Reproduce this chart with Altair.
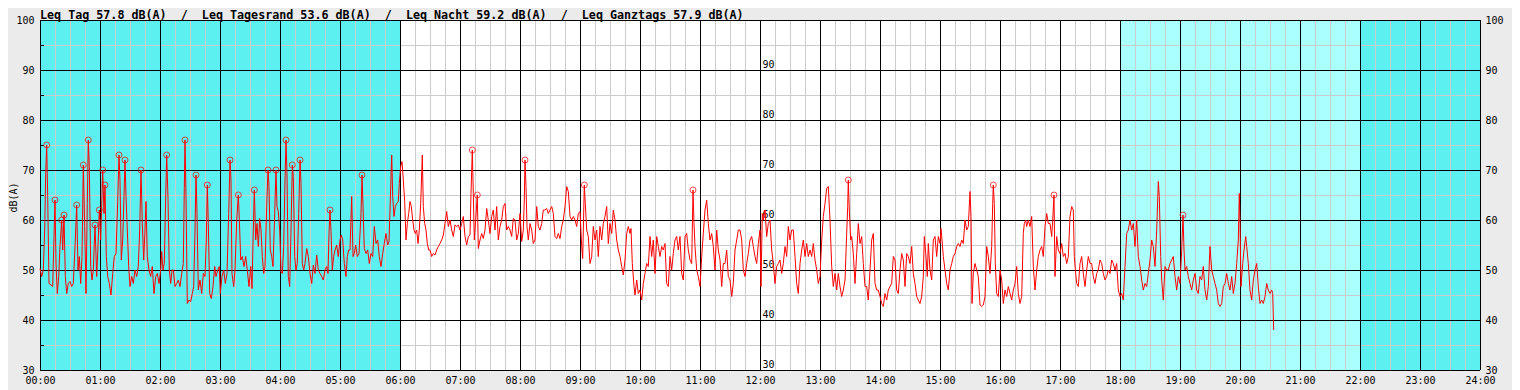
import altair as alt
import pandas as pd

# ---------------- data (minute of day, level dB(A)) ----------------
seg_night = [(0,50.3),(1.7,48.7),(3.3,50),(4.7,58),(5.7,69.3),(6.7,75),(7.7,64.7),(9,47.3),(11,47),(12.7,46.7),(14,56.7),(15,64),(16,51.3),(17.3,45.3),(18.7,48.7),(20,54.7),(21.7,60),(22.7,54),(24,61),(25.3,48.7),(26.7,45.3),(28.3,47.3),(30,47.7),(31.7,46.7),(33.3,47.3),(35.3,56),(36.7,63),(38,50),(39.3,52.7),(40.7,47.3),(42,52.7),(43.3,71),(44.7,58.7),(46,45.3),(47.3,63.3),(48.3,76),(49.3,70.7),(50.7,50.7),(52,48),(53.3,50),(55,59),(56.7,48.7),(58,54.7),(59.3,62),(60.7,56),(62.7,70),(64,61.3),(65,67),(66.3,52.7),(67.7,48.7),(69.3,47.3),(71,45),(72.7,49.3),(74.3,52.7),(76,53.3),(77.7,63.7),(79,73),(80,67.7),(81.3,52),(82.7,56),(84,64.7),(85,72),(86,64.7),(87.3,58),(88.7,50.7),(90,46.7),(91.7,48.7),(93.3,47.3),(95,50),(96.7,48.7),(98.3,50.7),(99.7,58),(101,70),(102.3,59.3),(103.7,52),(105,58),(106,63.7),(107.3,52.7),(109,50),(110.7,48.7),(112.3,50.7),(114,45.3),(115.7,48.7),(117.3,49.3),(119,47.3),(120.7,50),(121.7,53.7),(123,50),(124.3,51.3),(125.7,64.7),(126.7,73),(128,64.3),(129.3,50),(130.7,47.3),(132,50),(133.3,50),(135,46.7),(136.7,47.3),(138.3,48),(140,46.7),(141.7,49.3),(143.3,51.3),(144.3,66.3),(145,76),(146,64.7),(147.3,43.3),(149,44),(150.7,43.7),(152.3,45.3),(153.7,46.7),(155,58),(156,69),(157,61.3),(158.3,46),(160,48),(161.7,45.3),(163.3,49.3),(165,48.7),(166.3,56),(167.3,67),(168.3,59.3),(169.7,45.3),(171.3,44.3),(173,46.7),(174.7,50.7),(176,48.7),(177.7,50),(179.3,50.7),(180.3,45.3),(182,48.7),(183.7,50),(185.3,47.3),(187,49.3),(188.7,61.3),(190,72),(191,68),(192,49.3),(193.7,46.7),(195,50),(196.7,60),(198.3,65),(199.3,60.3),(200.7,52),(202.3,52.7),(204,50.7),(205.7,52.7),(207.3,50),(209,46.7),(210.7,50.7),(212,46.3),(213.3,58),(214.3,66),(215.7,56),(217,59.3),(218.3,54.7),(219.7,60.3),(221,58),(222.3,52.7),(223.7,49.3),(225,50.7),(226.7,62.7),(228,70),(229,66.7),(230.3,54),(231.7,52.7),(233,50.7),(234.7,61.3),(236,70),(237,62.7),(238.3,61.7),(239.7,58),(241,49.7),(242.3,49.3),(243.7,54.7),(245,68),(246,76),(247,69),(248.3,48.7),(249.7,46.7),(251,58),(252.3,71),(253.3,68.7),(254.7,52.7),(256,50),(257.3,51.3),(258.7,61.3),(260,72),(261,67.3),(262.3,51.3),(263.7,50),(265,51.3),(266.7,54.3),(268.3,52.7),(270,49.3),(271.7,47.3),(273.3,51),(275,49.3),(276.7,53),(278.3,50),(280,49.3),(281.7,48.7),(283.3,48),(285,50),(286.7,50.7),(288,49.3),(289,57.3),(290,62),(291,57.7),(292.3,50),(293.7,52.7),(295,54),(296.7,55),(298.3,52.7),(300,56),(301.3,57),(302.7,56),(304.3,51.3),(306,48.7),(307.3,52.7),(308.7,54),(310,54),(311.7,64.7),(313,52.7),(314.3,53.3),(315.7,55),(317.3,52.7),(319,53.3),(321,61.3),(322,69),(323,62.7),(324.3,54.3),(326,53.3),(327.7,54),(329.3,51.3),(331,53.3),(332.7,52.7),(334.3,58.7),(336,55.3),(337.7,56),(339.3,52.7),(341,50.7),(342.7,53.3),(344.3,55.3),(346,57.3),(347.7,55),(349,55.7),(350,62),(351.7,73),(352.7,64.7),(354,60.7),(355.3,62.7),(356.7,63.3),(358.3,63.7),(359.3,67.3),(360.7,70.7),(362,71.7),(363.3,68),(364.7,63.7),(366,56),(367.3,59.3),(368.7,61.3),(370,63.7),(371.3,62.7),(372.7,60),(374,58),(375.3,57.3),(376.7,58),(378,55.3),(379.3,58),(380.7,63.3),(382.3,73),(383.3,62.7),(384.7,59.3),(386,58),(387.3,55.3),(388.7,54),(390,54),(391.7,52.7),(393.3,53.3),(395,53),(396.7,54),(398.3,54.7),(400,55.3),(401.7,56),(403.3,57),(405,59.3),(406.7,61.7),(408.3,58.7),(410,60),(411.7,58),(413.3,56.7)]

seg_day = [(415,59),(416.7,58.7),(418.3,59),(420,58),(421.7,59.3),(423.3,60.7),(425,56.7),(426.7,55),(428.3,56.7),(430,57),(431,65.3),(432.3,74),(433.3,65.3),(434.3,56),(435.7,60),(437.3,65),(438.3,54.3),(440,56),(441.7,57.3),(443.3,56.3),(445,58),(446.7,62.3),(448.3,60),(450,57.3),(451.7,60.7),(453.3,62),(455,58),(456.7,62.7),(458.3,56),(460,58.7),(461.7,60),(463.3,62.7),(465,63.3),(466.7,58),(468.3,58.7),(470,58),(471.7,56.7),(473.3,60.3),(475,60),(476.7,56),(478.3,57.3),(480,61.3),(481.7,55.7),(483.3,58),(484.3,64),(485,72),(486,66.7),(487,58.7),(488.3,56),(490,59.3),(491.7,58),(493.3,55.3),(495,56),(496.7,62.7),(498.3,58.7),(500,58),(501.7,59.3),(503.3,62),(505,62),(506.7,62.3),(508.3,61.3),(510,62),(511.7,62.7),(513.3,61.3),(515,56.7),(516.7,56.3),(518.3,57.3),(520,56.3),(521.7,58.7),(523.3,60),(525,62.7),(526.7,66.7),(528.3,65.7),(530,60.7),(531.7,60),(533.3,60.7),(535,60),(536.7,58.7),(538.3,61.3),(540,61.7),(541.7,54.7),(542.7,52.3),(544.3,67),(545.3,63.3),(546.7,58),(548.3,56.7),(550,51.3),(551.7,52.7),(553.3,58.7),(555,56),(556.7,58),(558.3,52.7),(560,58.7),(561.7,56),(563.3,59.3),(565,60.7),(566.7,62.7),(568.3,55.3),(570,59.3),(571.7,57.3),(573.3,62),(575,60),(576.7,56),(578.3,54),(580,52.7),(581.7,50.7),(583.3,49),(585,52),(586.7,57.3),(588.3,58.7),(590,57.3),(591,58.3),(592.3,51.3),(594,46.7),(595,45),(596.7,48),(598.3,45.3),(600,46),(601.7,44),(603.3,47.3),(605,49.3),(606.7,51.3),(608.3,50.7),(610,56.7),(611.7,52.7),(613.3,56),(615,49.3),(616.7,56.7),(618.3,54.7),(620,52.7),(621.7,54.7),(623.3,54),(625,55.3),(626.7,47.3),(628.3,46.7),(630,52.7),(631.7,50),(633.3,53.3),(635,56),(636.7,56.7),(638.3,54),(640,56.7),(641.7,49.3),(643.3,48),(645,56.7),(646.7,57.3),(648.3,54),(650,52),(651.7,51.3),(653,66),(654,59.3),(655,54.7),(656.7,50),(658.3,48.7),(660,46.7),(661.7,52.7),(663.3,57.3),(665,62),(666.7,64),(668.3,59.3),(670,56),(671.7,57.3),(673.3,54.7),(675,50),(676.7,58),(678.3,54),(680,52),(681.7,46.7),(683.3,51.3),(685,51.3),(686.7,54),(688.3,48.7),(690,48),(691.7,44.7),(693.3,47.3),(695,54),(696.7,56),(698.3,58),(700,58),(701.7,56),(703.3,50),(705,48.7),(706.7,51.3),(708.3,53.3),(710,56),(711.7,56.7),(713.3,54.7),(715,52.7),(716.7,51.3),(718.3,55.3),(720,58),(721,46.7),(722.3,61.3),(723.3,60),(725,62),(726.7,56.7),(728.3,59.3),(730,60),(731.7,54),(733.3,51.3),(735,47.3),(736.7,50.7),(738.3,51.3),(740,52),(741.7,49.3),(743.3,51.3),(745,54.7),(746.7,52.7),(748.3,58.7),(750,56),(751.7,58),(753.3,58),(755,52.7),(756.7,47.3),(758.3,45.3),(760,51.3),(761.7,54),(763.3,56),(765,52.7),(766.7,55.3),(768.3,52.7),(770,54),(771.7,52.7),(773.3,55.3),(775,52),(776.7,50),(778.3,47.3),(780,48.7),(781.7,56),(783.3,60.7),(785,63.3),(786.7,66.3),(788.3,66.7),(790,60),(791.7,50.7),(793.3,46.7),(795,49.3),(796.7,46),(798.3,49.3),(800,46.7),(801.7,44.7),(803.3,46),(805,48),(806.7,57.3),(807.7,62.7),(808.3,68),(809.3,62),(810.7,56),(811.7,56.7),(813.3,53.3),(815,47.3),(816.7,53.3),(818.3,59.3),(820,55.3),(821.7,56.7),(823.3,51.3),(825,46.7),(826.7,46.7),(828.3,44)]

seg_evening = [(830,50),(831.7,56),(833.3,57.3),(835,47.3),(836.7,46),(838.3,46),(840,44.7),(841.7,43.3),(843.3,42.7),(845,45.3),(846.7,44),(848.3,46),(850,46.7),(851.7,47.3),(853.3,52.7),(855,52),(856.7,46),(858.3,45.3),(860,50),(861.7,53.3),(863.3,52),(865,46.7),(866.7,53.3),(868.3,52.7),(870,51.3),(871.7,54.7),(873.3,49.3),(875,47.3),(876.7,44.7),(878.3,44),(880,43.3),(881.7,44.7),(883.3,48.7),(884.3,56.7),(886,52.7),(887.3,48.7),(888.3,55.3),(890,50),(891.7,48),(893.3,56),(895,56.7),(896.7,52.7),(898.3,56.7),(900,55.3),(901,58.3),(902,56),(903.3,52.7),(905,50),(906.7,47.3),(908.3,46),(910,50),(911.7,51.3),(913.3,52.7),(915,53.3),(916.7,54.7),(918.3,55.3),(920,54.7),(921.7,56),(923.3,55.3),(925,60),(926.7,58),(928.3,58.7),(930,65.7),(931,60.7),(932,43.3),(933.3,49.3),(935,51.3),(936.7,50),(938.3,48.7),(940,43),(941.7,42.7),(943.3,43),(945,44.7),(946.7,54.7),(948.3,52.7),(950,49.3),(951.7,54.7),(952.7,63.3),(953.3,67),(954.3,63.3),(955.3,51.3),(956.7,45.3),(958.3,44.7),(960,50),(961.7,48),(963.3,43.3),(965,46),(966.7,44.7),(968.3,46.7),(970,45.3),(971.7,44),(973.3,46),(975,47.3),(976.7,50.7),(978.3,45.3),(980,43.3),(981.7,44.7),(983.3,57.3),(984.3,59.3),(985.7,60),(986.7,58.7),(988.3,60),(990,58.7),(991.7,60.7),(993.3,50.7),(995,46),(996.7,50),(998.3,52.7),(1000,54),(1001.7,54.7),(1003.3,52.7),(1005,58.7),(1006.7,61.3),(1008.3,59.3),(1010,59.3),(1011.7,56.7),(1012.7,60),(1014,65),(1015,48.7),(1016.7,56.7),(1018.3,54),(1020,53.3),(1021.7,55.3),(1023.3,52.7),(1025,53.3),(1026.7,51.3),(1028.3,52.7),(1030,60.7),(1031.7,62.7),(1033.3,62),(1034.3,52.7),(1035.7,49.3),(1036.7,47.3),(1038.3,46.7),(1040,51.3),(1041.7,52.7),(1043.3,49.3),(1045,46.7),(1046.7,50),(1048.3,52.7),(1050,51.3),(1051.7,51.3),(1053.3,48.7),(1055,47.3),(1056.7,49.3),(1058.3,50),(1060,52),(1061.7,51.3),(1063.3,49.3),(1065,48),(1066.7,48.7),(1068.3,50),(1070,49.3),(1071.7,52),(1073.3,51.3),(1075,50),(1076.7,51.3),(1078.3,46),(1080,44.7),(1081.7,45.3),(1083.3,44),(1085,50.7),(1086.7,57.3),(1088.3,58),(1090,60),(1091.7,58),(1093.3,59.3),(1095,54.7),(1096.7,60),(1098.3,52.7),(1100,50.7),(1101.7,48),(1103.3,46),(1105,47.3),(1106.7,46.7),(1108.3,49.3),(1110,52),(1111.7,56),(1113.3,54.7),(1115,50.7),(1116.7,58),(1118.3,67.7),(1119.3,64.7),(1120.7,52.7),(1121.7,48),(1123.3,44),(1125,50.7),(1126.7,50),(1128.3,50),(1130,51.3),(1131.7,52),(1133.3,52.7),(1135,48.7),(1136.7,46),(1138.3,48.7),(1140,47.3),(1141.7,54),(1143,61),(1144,54),(1145,50),(1146.7,50.7),(1148.3,48.7),(1150,47.3),(1151.7,46),(1153.3,48),(1155,49.3),(1156.7,46),(1158.3,45.3),(1160,48.7),(1161.7,48),(1163.3,50.7),(1165,46),(1166.7,44),(1168.3,46.7),(1170,54.7),(1171.7,50),(1173.3,48.7),(1175,47.3),(1176.7,46),(1178.3,43.3),(1180,42.7),(1181.7,43.3),(1183.3,46.7),(1185,47.3),(1186.7,49.3),(1188.3,47.3),(1190,46),(1191.7,48.7),(1193.3,45.3),(1195,47.3),(1196.7,51.3),(1198.3,56),(1199.3,65.3),(1200,59.3),(1201,46.7),(1202.7,51.3),(1204,54),(1205.7,56.7),(1206.7,54.7),(1208.3,51.3),(1210,46),(1211.7,44),(1213.3,48),(1215,50),(1216.7,51.3),(1218.3,46.7),(1220,43.3),(1221.7,44),(1223.3,43.3),(1225,44.7),(1226.7,47.3),(1228.3,46),(1230,45.3),(1231.7,46),(1232.7,45.3),(1233.7,38)]

peak_min = [6.7,15,21.7,24,36.7,43.3,48.3,55,59.3,62.7,65,79,85,101,126.7,145,156,167.3,190,198.3,214.3,228,236,246,252.3,260,290,322,432.3,437.3,485,544.3,653,808.3,953.3,1014,1143]
peak_db = [75,64,60,61,63,71,76,59,62,70,67,73,72,70,73,76,69,67,72,65,66,70,70,76,71,72,62,69,74,65,72,67,66,68,67,65,61]

period_start = [0, 1080, 1320]
period_end = [360, 1320, 1440]
period_fill = ["#5cf0f0", "#aaffff", "#5cf0f0"]

hour_min = list(range(0, 1441, 60))
hour_labels = ["%02d:00" % h for h in range(25)]
quarter_min = [m for m in range(0, 1441, 15) if m % 60]
db_major = list(range(30, 101, 10))
db_minor = list(range(35, 100, 10))
mid_labels = [30, 40, 50, 60, 70, 80, 90]
mid_label_time = 720
left_tick_len = 4

title_text = ("Leq Tag 57.8 dB(A)  /  Leq Tagesrand 53.6 dB(A)  /  "
              "Leq Nacht 59.2 dB(A)  /  Leq Ganztags 57.9 dB(A)").replace(" ", "\u00a0")

FONT = "DejaVu Sans Mono"
MINOR = "#cccccc"

# ---------------- frames ----------------
line_df = pd.DataFrame(seg_night + seg_day + seg_evening, columns=["t", "db"])
peak_df = pd.DataFrame({"t": peak_min, "db": peak_db})
period_df = pd.DataFrame({"start": period_start, "end": period_end, "fill": period_fill})
hour_df = pd.DataFrame({"t": hour_min})
quarter_df = pd.DataFrame({"t": quarter_min})
major_df = pd.DataFrame({"db": db_major})
minor_df = pd.DataFrame({"db": db_minor})
mid_df = pd.DataFrame({"db": mid_labels})

xs = alt.Scale(domain=[0, 1440], nice=False, zero=False)
ys = alt.Scale(domain=[30, 100], nice=False, zero=False)

label_expr = "[" + ",".join("'%s'" % s for s in hour_labels) + "][round(datum.value/60)]"

x_axis = alt.Axis(
    values=hour_min, labelExpr=label_expr, grid=False, ticks=False, domain=False,
    labelFlush=False, labelOverlap=False, labelPadding=5, labelFont=FONT,
    labelFontSize=10, labelColor="black", title="")
y_axis = alt.Axis(
    values=db_major, grid=False, ticks=False, domain=False, labelPadding=6,
    labelFont=FONT, labelFontSize=10, labelColor="black",
    title="dB(A)", titleFont=FONT, titleFontSize=10, titleFontWeight="normal",
    titleColor="black", titleAngle=270, titleX=-23.5, titleY=177,
    titleAlign="center", titleBaseline="alphabetic")

bg = alt.Chart(period_df).mark_rect().encode(
    x=alt.X("start:Q", scale=xs, axis=x_axis),
    x2="end:Q",
    color=alt.Color("fill:N", scale=None),
)

v_minor = alt.Chart(quarter_df).mark_rule(color=MINOR, strokeWidth=1, xOffset=0.5).encode(
    x=alt.X("t:Q", scale=xs))
h_minor = alt.Chart(minor_df).mark_rule(color=MINOR, strokeWidth=1, yOffset=0.5).encode(
    y=alt.Y("db:Q", scale=ys, axis=y_axis))

v_major = alt.Chart(hour_df).mark_rule(color="black", strokeWidth=1, xOffset=0.5).encode(
    x=alt.X("t:Q", scale=xs))
h_major = alt.Chart(major_df).mark_rule(color="black", strokeWidth=1, yOffset=0.5).encode(
    y=alt.Y("db:Q", scale=ys))

left_ticks = alt.Chart(minor_df).mark_rule(color="black", strokeWidth=1, yOffset=0.5).encode(
    x=alt.datum(0), x2=alt.datum(left_tick_len),
    y=alt.Y("db:Q", scale=ys))

mid_text = alt.Chart(mid_df).mark_text(
    font=FONT, fontSize=10, align="left", baseline="alphabetic", dx=2.5, dy=-2, color="black"
).encode(x=alt.datum(mid_label_time), y=alt.Y("db:Q", scale=ys), text="db:Q")

right_text = alt.Chart(major_df).mark_text(
    font=FONT, fontSize=10, align="left", baseline="middle", dx=5.5, dy=0.5, color="black"
).encode(x=alt.datum(1440), y=alt.Y("db:Q", scale=ys), text="db:Q")

line = alt.Chart(line_df).mark_line(color="#ff0000", strokeWidth=1).encode(
    x=alt.X("t:Q", scale=xs), y=alt.Y("db:Q", scale=ys))

peaks = alt.Chart(peak_df).mark_point(shape="circle", filled=False, color="#ff0000",
                                     size=36, strokeWidth=1).encode(
    x=alt.X("t:Q", scale=xs), y=alt.Y("db:Q", scale=ys))

chart = alt.layer(
    bg, v_minor, h_minor, v_major, h_major, left_ticks, mid_text, right_text, line, peaks
).properties(
    width=1440, height=350,
    padding={"left": 32, "top": 12, "right": 32, "bottom": 20},
    autosize=alt.AutoSizeParams(type="none"),
    title=alt.TitleParams(text=title_text, anchor="start", frame="group", font=FONT,
                          fontSize=11.7, fontWeight="bold", color="black", offset=3, dy=9.5),
).configure(background="#ebebeb").configure_view(fill="white", stroke="transparent")

chart.save("out.html", embed_options={"renderer": "svg", "actions": False})
